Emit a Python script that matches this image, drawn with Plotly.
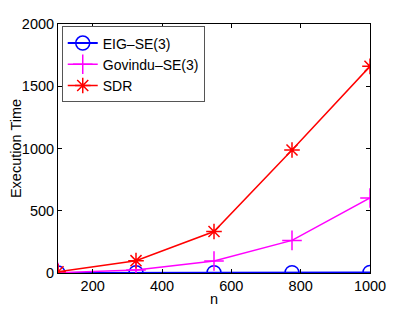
import plotly.graph_objects as go

n = [100, 325, 550, 775, 1000]
eig = [1, 2, 2, 3, 4]
govindu = [3, 24, 96, 262, 603]
sdr = [10, 99, 333, 988, 1660]
x_ticks = [200, 400, 600, 800, 1000]
y_ticks = [0, 500, 1000, 1500, 2000]

fig = go.Figure()
fig.add_trace(go.Scatter(x=n, y=eig, mode="lines+markers", name="EIG\u2013SE(3)",
                         line=dict(color="#0000ff", width=2),
                         marker=dict(symbol="circle-open", size=14, color="#0000ff", line=dict(width=1.5))))
fig.add_trace(go.Scatter(x=n, y=govindu, mode="lines+markers", name="Govindu\u2013SE(3)",
                         line=dict(color="#ff00ff", width=1.5),
                         marker=dict(symbol="cross-thin-open", size=14, color="#ff00ff", line=dict(width=1.5, color="#ff00ff"))))
fig.add_trace(go.Scatter(x=n, y=sdr, mode="lines+markers", name="SDR",
                         line=dict(color="#ff0000", width=1.5),
                         marker=dict(symbol="asterisk-open", size=13, color="#ff0000", line=dict(width=1.5, color="#ff0000"))))

fam = "Liberation Sans, Arial, sans-serif"
font = dict(family=fam, size=14.5, color="black")
fig.update_layout(
    width=403, height=301,
    margin=dict(l=50, r=41, t=16, b=36, autoexpand=False),
    paper_bgcolor="white", plot_bgcolor="white",
    font=font,
    showlegend=True,
    legend=dict(x=0.012, y=0.99, xanchor="left", yanchor="top",
                bgcolor="white", bordercolor="#555555", borderwidth=1,
                font=dict(family=fam, size=14, color="black"),
                tracegroupgap=0, itemwidth=30),
)
fig.update_xaxes(range=[100, 1000], tickvals=x_ticks, ticktext=[str(v) for v in x_ticks],
                 showgrid=False, zeroline=False, showline=True, linecolor="black", linewidth=1,
                 mirror="ticks", ticks="inside", ticklen=4, tickcolor="black", automargin=False,
                 title=dict(text="n", standoff=0, font=dict(family=fam, size=14.5)))
fig.update_yaxes(range=[0, 2000], tickvals=y_ticks,
                 showgrid=False, zeroline=False, showline=True, linecolor="black", linewidth=1,
                 mirror="ticks", ticks="inside", ticklen=4, tickcolor="black", automargin=False,
                 title=dict(text="Execution Time", standoff=2, font=dict(family=fam, size=14.5)))

fig.write_html("out.html")
